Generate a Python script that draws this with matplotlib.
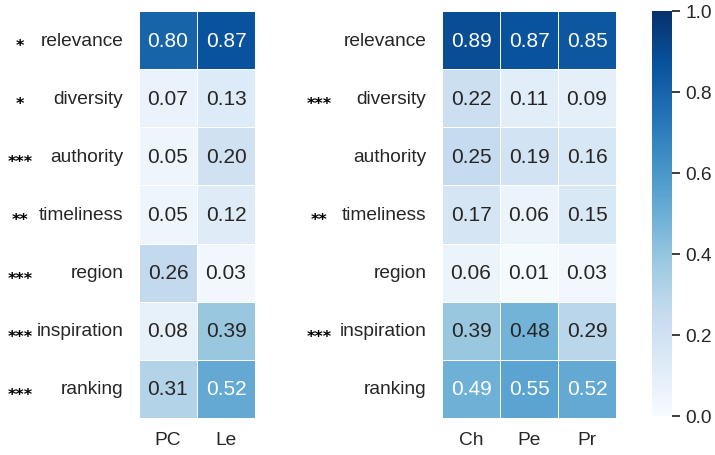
import numpy as np
import pandas as pd
import seaborn as sns
import matplotlib
matplotlib.use("Agg")
from matplotlib import pyplot as plt
from matplotlib.transforms import blended_transform_factory

# row / column labels
aspects = ["relevance", "diversity", "authority", "timeliness", "region", "inspiration", "ranking"]
left_cols = ["PC", "Le"]
right_cols = ["Ch", "Pe", "Pr"]

# values
pc = [0.80, 0.07, 0.05, 0.05, 0.26, 0.08, 0.31]
le = [0.87, 0.13, 0.20, 0.12, 0.03, 0.39, 0.52]
ch = [0.89, 0.22, 0.25, 0.17, 0.06, 0.39, 0.49]
pe = [0.87, 0.11, 0.19, 0.06, 0.01, 0.48, 0.55]
pr = [0.85, 0.09, 0.16, 0.15, 0.03, 0.29, 0.52]

# significance markers
left_sig = ["*", "*", "***", "**", "***", "***", "***"]
right_sig = ["", "***", "", "**", "", "***", ""]

sns.set_theme(style="white", font_scale=1.25)
plt.rcParams['font.family'] = ['Liberation Sans', 'DejaVu Sans']

df_left = pd.DataFrame({"PC": pc, "Le": le}, index=aspects)[left_cols]
df_right = pd.DataFrame({"Ch": ch, "Pe": pe, "Pr": pr}, index=aspects)[right_cols]

W, H = 715, 456
fig = plt.figure(figsize=(W / 100, H / 100), dpi=100)

def box(x0, y0, x1, y1):
    # pixel box -> figure fraction
    return [x0 / W, (H - y1) / H, (x1 - x0) / W, (y1 - y0) / H]

ax1 = fig.add_axes(box(139, 12, 255, 419))
ax2 = fig.add_axes(box(442, 12, 616, 419))
cax = fig.add_axes(box(652, 12, 672, 417))

sns.heatmap(df_left, ax=ax1, cmap="Blues", vmin=0, vmax=1, annot=True, fmt=".2f",
            linewidths=0.5, linecolor="white", cbar=False)
sns.heatmap(df_right, ax=ax2, cmap="Blues", vmin=0, vmax=1, annot=True, fmt=".2f",
            linewidths=0.5, linecolor="white", cbar_ax=cax)

for ax in (ax1, ax2):
    ax.set_yticklabels(aspects, rotation=0)
    ax.set_xticklabels(ax.get_xticklabels(), rotation=0)
    ax.set_ylabel("")
    ax.tick_params(axis="y", pad=5.2)

# stars to the left of the row labels
def stars(ax, sig, xpix):
    tr = blended_transform_factory(fig.transFigure, ax.transData)
    for i, s in enumerate(sig):
        if s:
            ax.text(xpix / W, i + 0.5 + 0.17, s, transform=tr, family="DejaVu Sans",
                    fontweight="bold", ha="center", va="baseline", fontsize=11.5,
                    color="black")

stars(ax1, left_sig, 20)
stars(ax2, right_sig, 319)

cax.tick_params(length=6, width=1.25, color=".15")
cax.set_yticks([0.0, 0.2, 0.4, 0.6, 0.8, 1.0])

plt.savefig("out.png", dpi=100)
